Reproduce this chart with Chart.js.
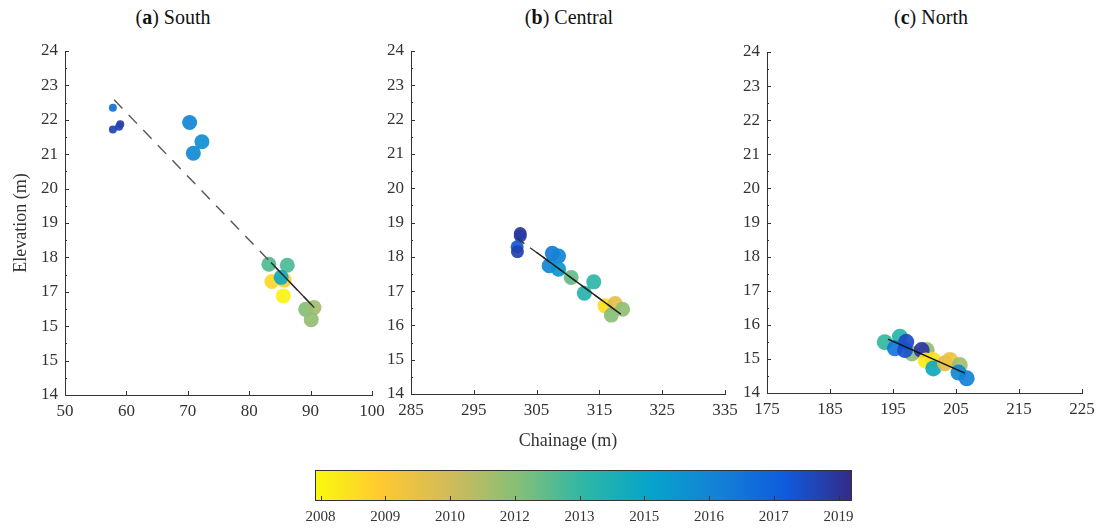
<!DOCTYPE html>
<html lang="en">
<head>
  <meta charset="UTF-8">
  <title>Elevation vs chainage</title>
  <script src="https://cdn.jsdelivr.net/npm/chart.js"></script>
  <style>
    body {
      margin: 0;
      background: #ffffff;
      font-family: 'Liberation Serif', 'DejaVu Serif', serif;
    }
    .stage {
      position: relative;
      width: 1102px;
      height: 529px;
      overflow: hidden;
    }
    canvas {
      position: absolute;
    }
    .title {
      position: absolute;
      top: 6px;
      transform: translateX(-50%);
      font-size: 20px;
      color: #111;
      white-space: nowrap;
    }
  </style>
</head>
<body>
  <div class="stage">
    <div class="title" style="left: 173px;">(<b>a</b>) South</div>
    <div class="title" style="left: 569px;">(<b>b</b>) Central</div>
    <div class="title" style="left: 931px;">(<b>c</b>) North</div>

    <canvas id="south" width="400" height="470" style="left: 0px; top: 0px;"></canvas>
    <canvas id="central" width="370" height="470" style="left: 380px; top: 0px;"></canvas>
    <canvas id="north" width="365" height="470" style="left: 737px; top: 0px;"></canvas>
    <canvas id="colorbar" width="570" height="69" style="left: 300px; top: 460px;"></canvas>
  </div>

  <script>
    // axes
    const yTickValues = [14, 15, 16, 17, 18, 19, 20, 21, 22, 23, 24];
    const southYTickLabels = ['14', '15', '15', '17', '18', '19', '20', '21', '22', '23', '24'];
    const southXTicks = [50, 60, 70, 80, 90, 100];
    const centralXTicks = [285, 295, 305, 315, 325, 335];
    const northXTicks = [175, 185, 195, 205, 215, 225];

    // colour bar (survey date)
    const colorbarTicks = [2008.0, 2009.4, 2010.8, 2012.2, 2013.6, 2015.0, 2016.4, 2017.8, 2019.2];
    const colorbarLabels = ['2008', '2009', '2010', '2012', '2013', '2015', '2016', '2017', '2019'];
    const yearMin = 2007.88;
    const yearMax = 2019.49;

    // (a) South
    const southX = [57.8, 57.8, 59.0, 58.8, 70.3, 72.3, 70.9, 83.2, 86.2, 83.7, 85.7, 85.55, 85.2, 89.2, 90.55, 90.1];
    const southY = [22.35, 21.72, 21.87, 21.80, 21.92, 21.36, 21.03, 17.80, 17.77, 17.30, 17.34, 16.88, 17.42, 16.49, 16.54, 16.19];
    const southYear = [2017.3, 2018.8, 2019.1, 2018.7, 2016.4, 2016.0, 2016.2, 2013.1, 2013.2, 2008.9, 2009.1, 2008.1, 2014.7, 2012.3, 2011.7, 2012.0];
    const southTrendX = [58.0, 90.6];
    const southTrendY = [22.58, 16.54];
    const southSegX = [83.55, 90.6];
    const southSegY = [17.85, 16.54];

    // (b) Central
    const centralX = [302.4, 302.4, 301.9, 301.95, 307.5, 308.5, 307.0, 308.5, 310.5, 314.1, 312.6, 315.9, 317.5, 318.7, 316.9];
    const centralY = [18.68, 18.61, 18.29, 18.15, 18.10, 18.02, 17.74, 17.64, 17.40, 17.27, 16.94, 16.57, 16.64, 16.47, 16.30];
    const centralYear = [2019.2, 2019.0, 2018.2, 2018.8, 2016.9, 2016.5, 2016.3, 2015.7, 2012.8, 2013.8, 2014.0, 2008.7, 2010.2, 2012.0, 2012.2];
    const centralTrendX = [301.9, 318.4];
    const centralTrendY = [18.54, 16.33];
    const centralSegX = [305.0, 318.4];
    const centralSegY = [18.13, 16.33];

    // (c) North
    const northX = [193.7, 196.1, 195.3, 198.0, 197.1, 196.9, 200.35, 199.55, 200.2, 201.35, 201.4, 203.25, 204.05, 205.6, 205.4, 206.7];
    const northY = [15.49, 15.65, 15.31, 15.16, 15.50, 15.26, 15.26, 15.26, 14.95, 14.97, 14.72, 14.87, 14.97, 14.82, 14.60, 14.43];
    const northYear = [2013.6, 2013.9, 2017.0, 2012.0, 2018.5, 2018.3, 2011.9, 2019.1, 2008.3, 2008.6, 2014.8, 2010.3, 2009.9, 2011.7, 2016.3, 2016.6];
    const northTrendX = [194.2, 206.4];
    const northTrendY = [15.58, 14.58];

    // parula, low -> high; the bar runs high -> low (yellow is oldest)
    const parula = ['#352a87', '#0f5cdd', '#1481d6', '#06a4ca', '#2eb7a4', '#87bf77', '#d1bb59', '#fec832', '#f9fb0e'];
    const palette = parula.slice().reverse();

    Chart.defaults.font.family = "'Liberation Serif', 'DejaVu Serif', serif";
    Chart.defaults.color = '#333';

    function hexRgb(h) {
      return [parseInt(h.slice(1, 3), 16), parseInt(h.slice(3, 5), 16), parseInt(h.slice(5, 7), 16)];
    }

    function yearColor(year, alpha) {
      let t = (year - yearMin) / (yearMax - yearMin);
      t = Math.max(0, Math.min(1, t)) * (palette.length - 1);
      const i = Math.min(Math.floor(t), palette.length - 2);
      const f = t - i;
      const a = hexRgb(palette[i]), b = hexRgb(palette[i + 1]);
      const c = a.map((v, k) => Math.round(v + (b[k] - v) * f));
      return 'rgba(' + c[0] + ',' + c[1] + ',' + c[2] + ',' + alpha + ')';
    }

    function toPoints(xs, ys) {
      return xs.map((x, i) => ({ x: x, y: ys[i] }));
    }

    // tick marks drawn inward, like the original figure
    const innerTicks = {
      id: 'innerTicks',
      afterDraw(chart) {
        const ctx = chart.ctx;
        const xs = chart.scales.x, ys = chart.scales.y;
        ctx.save();
        ctx.strokeStyle = '#333';
        ctx.lineWidth = 1;
        ctx.beginPath();
        xs.ticks.forEach(t => {
          const px = Math.round(xs.getPixelForValue(t.value)) + 0.5;
          ctx.moveTo(px, xs.top);
          ctx.lineTo(px, xs.top - 4);
        });
        ys.ticks.forEach(t => {
          const py = Math.round(ys.getPixelForValue(t.value)) + 0.5;
          ctx.moveTo(ys.right, py);
          ctx.lineTo(ys.right + 4, py);
        });
        for (let v = ys.min + 0.5; v < ys.max; v += 1) {
          const py = Math.round(ys.getPixelForValue(v)) + 0.5;
          ctx.moveTo(ys.right, py);
          ctx.lineTo(ys.right + 2, py);
        }
        ctx.stroke();
        ctx.restore();
      }
    };

    function makePanel(id, p) {
      const lines = p.lines.map(l => ({
        data: toPoints(l.x, l.y),
        showLine: true,
        borderColor: l.color,
        borderWidth: 1.4,
        borderDash: l.dash,
        pointRadius: 0,
        pointHoverRadius: 0
      }));
      return new Chart(document.getElementById(id), {
        type: 'scatter',
        data: {
          datasets: lines.concat([{
            data: toPoints(p.x, p.y),
            backgroundColor: p.years.map(y => yearColor(y, 0.92)),
            borderWidth: 0,
            pointRadius: p.radius,
            pointHoverRadius: p.radius
          }])
        },
        options: {
          responsive: false,
          animation: false,
          devicePixelRatio: 1,
          layout: { padding: p.padding },
          plugins: { legend: { display: false }, tooltip: { enabled: false } },
          scales: {
            x: {
              min: p.xTicks[0],
              max: p.xTicks[p.xTicks.length - 1],
              grid: { display: false, drawTicks: false },
              border: { display: true, color: '#333', width: 1 },
              ticks: { padding: 6, font: { size: 17 }, color: '#333', autoSkip: false, maxRotation: 0 },
              title: p.xTitle ? {
                display: true, text: p.xTitle, font: { size: 18 }, color: '#333',
                padding: { top: 0, bottom: 18 }
              } : { display: false },
              afterBuildTicks: s => { s.ticks = p.xTicks.map(v => ({ value: v })); },
              afterFit: s => { s.height = p.xHeight; s.paddingLeft = 0; s.paddingRight = 0; }
            },
            y: {
              min: 14,
              max: 24,
              grid: { display: false, drawTicks: false },
              border: { display: true, color: '#333', width: 1 },
              ticks: {
                padding: 7, font: { size: 17 }, color: '#333', autoSkip: false,
                callback: (v, i) => p.yLabels ? p.yLabels[i] : String(v)
              },
              title: p.yTitle ? {
                display: true, text: p.yTitle, font: { size: 18 }, color: '#333',
                padding: { top: 10, bottom: 0 }
              } : { display: false },
              afterBuildTicks: s => { s.ticks = yTickValues.map(v => ({ value: v })); },
              afterFit: s => { s.width = p.yWidth; s.paddingTop = 0; s.paddingBottom = 0; }
            }
          }
        },
        plugins: [innerTicks]
      });
    }

    makePanel('south', {
      x: southX, y: southY, years: southYear,
      radius: ctx => (ctx.dataIndex < 4 ? 4 : 7.5),
      lines: [
        { x: southSegX, y: southSegY, color: '#2a2a2a', dash: [] },
        { x: southTrendX, y: southTrendY, color: '#555', dash: [12, 9] }
      ],
      xTicks: southXTicks, yLabels: southYTickLabels,
      yTitle: 'Elevation (m)',
      padding: { top: 51, right: 28, left: 0, bottom: 0 },
      yWidth: 65, xHeight: 75
    });

    makePanel('central', {
      x: centralX, y: centralY, years: centralYear,
      radius: ctx => (ctx.dataIndex < 4 ? 6.5 : 7.5),
      lines: [
        { x: centralSegX, y: centralSegY, color: '#222', dash: [] },
        { x: centralTrendX, y: centralTrendY, color: '#333', dash: [9, 7] }
      ],
      xTicks: centralXTicks,
      xTitle: 'Chainage (m)',
      padding: { top: 51, right: 25, left: 0, bottom: 0 },
      yWidth: 31, xHeight: 76
    });

    makePanel('north', {
      x: northX, y: northY, years: northYear,
      radius: 8,
      lines: [
        { x: northTrendX, y: northTrendY, color: '#111', dash: [] }
      ],
      xTicks: northXTicks,
      padding: { top: 52, right: 20, left: 0, bottom: 0 },
      yWidth: 30, xHeight: 77
    });

    // colour bar
    const colorbarFill = {
      id: 'colorbarFill',
      beforeDatasetsDraw(chart) {
        const { ctx, chartArea: a } = chart;
        const xs = chart.scales.x;
        const g = ctx.createLinearGradient(a.left, 0, a.right, 0);
        palette.forEach((c, i) => g.addColorStop(i / (palette.length - 1), c));
        ctx.save();
        ctx.fillStyle = g;
        ctx.fillRect(a.left, a.top, a.right - a.left, a.bottom - a.top);
        ctx.strokeStyle = '#333';
        ctx.lineWidth = 1;
        ctx.strokeRect(a.left + 0.5, a.top + 0.5, a.right - a.left - 1, a.bottom - a.top - 1);
        ctx.beginPath();
        xs.ticks.forEach(t => {
          const px = Math.round(xs.getPixelForValue(t.value)) + 0.5;
          ctx.moveTo(px, a.bottom);
          ctx.lineTo(px, a.bottom - 5);
        });
        ctx.stroke();
        ctx.restore();
      }
    };

    new Chart(document.getElementById('colorbar'), {
      type: 'scatter',
      data: { datasets: [] },
      options: {
        responsive: false,
        animation: false,
        devicePixelRatio: 1,
        layout: { padding: { left: 15, right: 18, top: 10, bottom: 0 } },
        plugins: { legend: { display: false }, tooltip: { enabled: false } },
        scales: {
          x: {
            min: yearMin,
            max: yearMax,
            grid: { display: false, drawTicks: false },
            border: { display: false },
            ticks: {
              padding: 7, font: { size: 15 }, color: '#333', autoSkip: false, maxRotation: 0,
              callback: (v, i) => colorbarLabels[i]
            },
            afterBuildTicks: s => { s.ticks = colorbarTicks.map(v => ({ value: v })); },
            afterFit: s => { s.height = 28; s.paddingLeft = 0; s.paddingRight = 0; }
          },
          y: { display: false, min: 0, max: 1 }
        }
      },
      plugins: [colorbarFill]
    });
  </script>
</body>
</html>
